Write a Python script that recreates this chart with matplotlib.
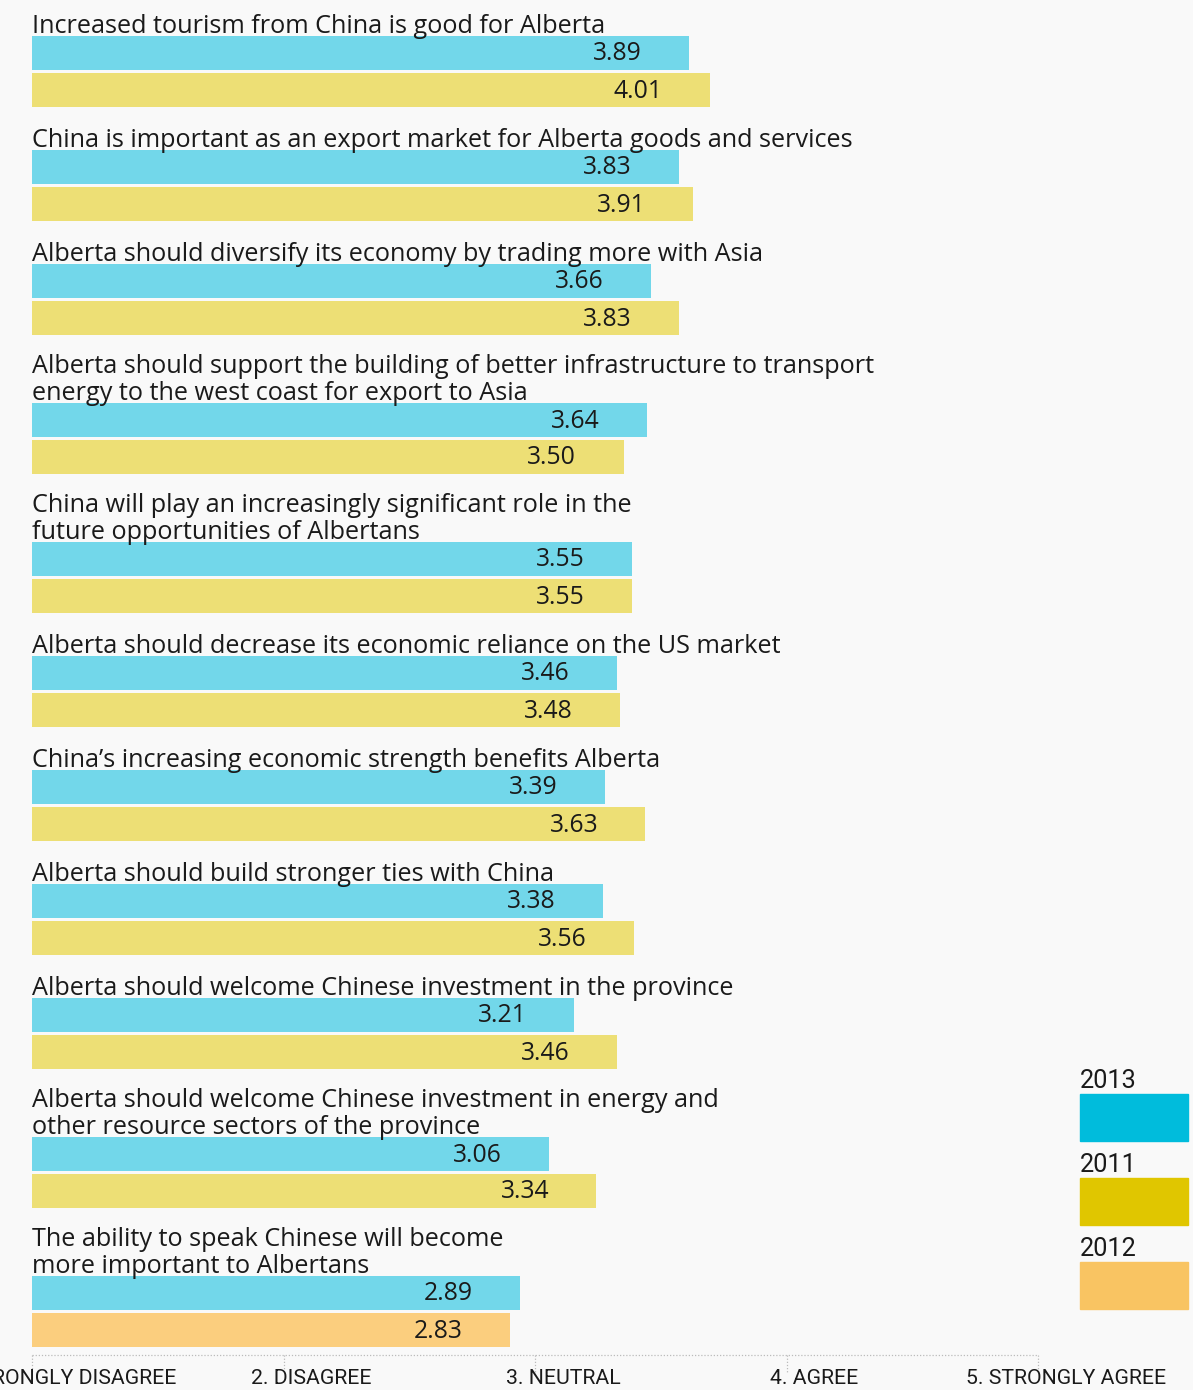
import matplotlib
matplotlib.use('Agg')
import matplotlib.pyplot as plt
from matplotlib.patches import Rectangle
from matplotlib.transforms import Affine2D

statements = [
    "Increased tourism from China is good for Alberta",
    "China is important as an export market for Alberta goods and services",
    "Alberta should diversify its economy by trading more with Asia",
    "Alberta should support the building of better infrastructure to transport\nenergy to the west coast for export to Asia",
    "China will play an increasingly significant role in the\nfuture opportunities of Albertans",
    "Alberta should decrease its economic reliance on the US market",
    "China\u2019s increasing economic strength benefits Alberta",
    "Alberta should build stronger ties with China",
    "Alberta should welcome Chinese investment in the province",
    "Alberta should welcome Chinese investment in energy and\nother resource sectors of the province",
    "The ability to speak Chinese will become\nmore important to Albertans",
]
scores_2013 = [3.89, 3.83, 3.66, 3.64, 3.55, 3.46, 3.39, 3.38, 3.21, 3.06, 2.89]
scores_prev = [4.01, 3.91, 3.83, 3.50, 3.55, 3.48, 3.63, 3.56, 3.46, 3.34, 2.83]
prev_years = ['2011'] * 10 + ['2012']
scale_labels = ['1. STRONGLY DISAGREE', '2. DISAGREE', '3. NEUTRAL', '4. AGREE', '5. STRONGLY AGREE']
legend_years = ['2013', '2011', '2012']

W, H = 1193, 1390
BG = '#f9f9f9'
INK = '#1a1a1a'
bar_colors = {'2013': '#72d7ea', '2011': '#eddf75', '2012': '#fbce7e'}
key_colors = {'2013': '#00bcdc', '2011': '#e0c600', '2012': '#f9c462'}
FS = 18.2
MAIN = ['Open Sans', 'DejaVu Sans']
SCALE = ['Roboto', 'DejaVu Sans']

plt.rcParams['font.family'] = MAIN

fig = plt.figure(figsize=(W / 100, H / 100), dpi=100, facecolor=BG)
ax = fig.add_axes([0, 0, 1, 1])
ax.set_facecolor(BG)
unit = 169  # pixels per score point, bars start at x=32
ax.set_xlim(-32 / unit, (W - 32) / unit)
ax.set_ylim(H, 0)
ax.axis('off')

# pixel transform for the legend
px = Affine2D().scale(1 / W, -1 / H).translate(0, 1) + fig.transFigure

bar_h = 34
top = 36
for i, text in enumerate(statements):
    lines = text.count('\n') + 1
    if i > 0:
        top += 114 if lines == 1 else 139
    y1 = top + bar_h / 2
    y2 = top + bar_h + 3 + bar_h / 2
    ax.barh(y1, scores_2013[i], height=bar_h, color=bar_colors['2013'])
    ax.barh(y2, scores_prev[i], height=bar_h, color=bar_colors[prev_years[i]])
    ax.text(0, top + 3, text, ha='left', va='bottom', fontsize=FS,
            color=INK, linespacing=1.1)
    ax.text(scores_2013[i] - 0.28, y1 + 1, f'{scores_2013[i]:.2f}',
            ha='right', va='center', fontsize=FS - 0.4, color=INK)
    ax.text(scores_prev[i] - 0.28, y2 + 1, f'{scores_prev[i]:.2f}',
            ha='right', va='center', fontsize=FS - 0.4, color=INK)

# agreement scale along the bottom
ax_s = ax.twiny()
step = 251.5
ax_s.set_xlim(1 - 32 / step, 1 + (W - 32) / step)
ax_s.axis('off')
ax_s.plot([1, 5], [1355, 1355], color='#bbbbbb', lw=0.9, ls=(0, (1, 1.5)))
ax_s.vlines(range(1, 6), 1355, 1373, color='#bbbbbb', lw=0.9, linestyles=[(0, (1, 1.5))])
for k, lab in enumerate(scale_labels):
    ax_s.text(k + 1 + 28 / step, 1378, lab, ha='center', va='center',
              fontsize=15.3, color=INK, family=SCALE)

# legend
for j, yr in enumerate(legend_years):
    ytop = 1094 + j * 84
    ax.add_patch(Rectangle((1080, ytop), 108, 47, transform=px,
                           color=key_colors[yr], clip_on=False))
    ax.text(1080, ytop - 6, yr, transform=px, ha='left', va='baseline',
            fontsize=FS, color=INK, family=SCALE)

fig.savefig('out.png', dpi=100, facecolor=BG)
